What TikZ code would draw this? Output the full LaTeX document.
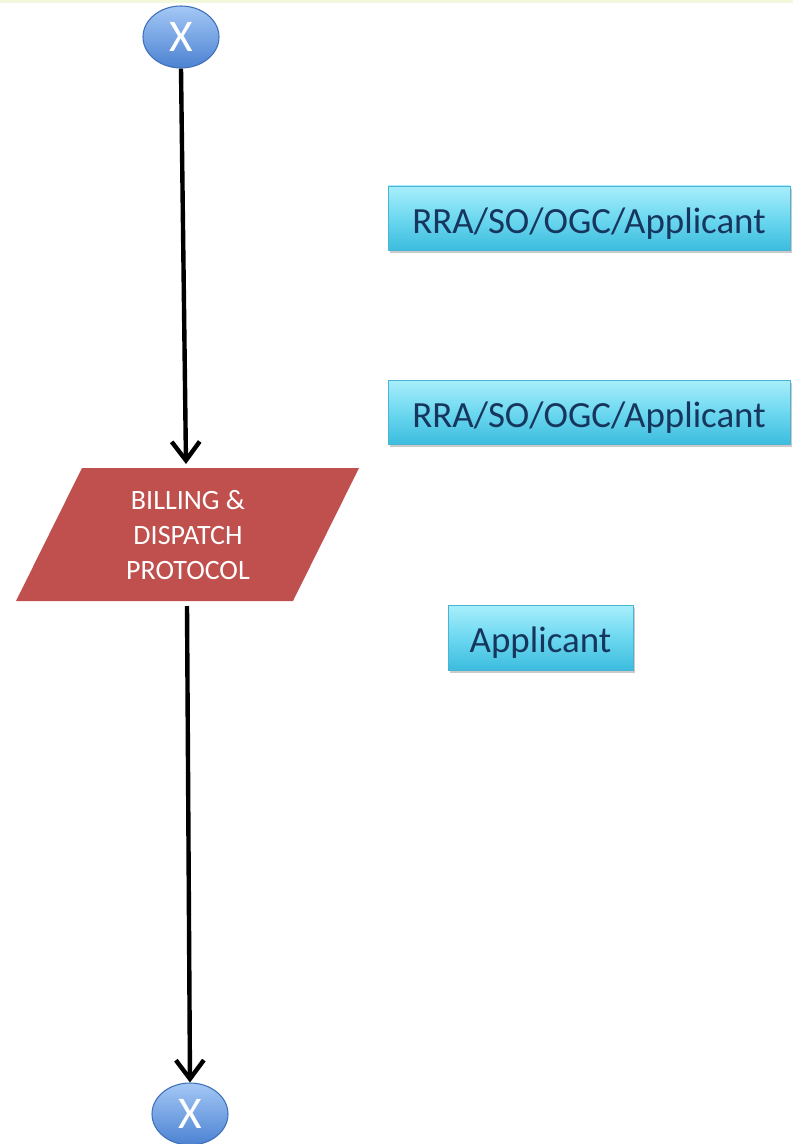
\documentclass[tikz,border=0pt]{standalone}
\usepackage{fontspec}
\setmainfont{Carlito}
\usetikzlibrary{arrows.meta,shadows,shapes.geometric}
\definecolor{boxtop}{HTML}{A8EEFB}
\definecolor{boxmid}{HTML}{6DD8F0}
\definecolor{boxbot}{HTML}{3CBCDE}
\definecolor{boxedge}{HTML}{49B4D4}
\definecolor{boxtext}{HTML}{17365D}
\definecolor{elltop}{HTML}{A4C8F6}
\definecolor{ellbot}{HTML}{4C82D2}
\definecolor{elledge}{HTML}{3F70B8}
\definecolor{billred}{HTML}{C0504D}
\definecolor{topstrip}{HTML}{F2F8DC}
\tikzset{
  rolebox/.style={rectangle, draw=boxedge, line width=0.6pt,
    top color=boxtop, bottom color=boxbot, middle color=boxmid,
    text=boxtext, font=\fontsize{27.7}{33}\selectfont,
    inner sep=0pt, text height=23pt, text depth=0pt,
    drop shadow={shadow xshift=1.5pt, shadow yshift=-2.5pt, opacity=0.35, fill=black!60}},
  connector/.style={ellipse, draw=elledge, line width=0.8pt,
    top color=elltop, bottom color=ellbot,
    text=white, font=\fontsize{34}{34}\selectfont,
    minimum width=57pt, minimum height=46.5pt, inner sep=0pt},
  flowarrow/.style={line width=3.3pt, black,
    -{Straight Barb[length=14pt, width=21pt, line width=3.3pt]}},
  billtext/.style={text=white, align=center,
    font=\fontsize{21}{26.3}\selectfont}
}
\begin{document}
\begin{tikzpicture}[x=0.75pt, y=-0.75pt]
\useasboundingbox (0,0) rectangle (793,1144);
\fill[topstrip] (0,0) rectangle (793,3);
% connectors (circles)
\node[connector] (xtop) at (181,37) {X};
\node[connector] (xbot) at (190,1114) {X};
% parallelogram
\fill[billred] (82,468) -- (359,468) -- (293,601) -- (16,601) -- cycle;
\node[billtext] (bill) at (188,535) {BILLING \&\\DISPATCH\\PROTOCOL};
\coordinate (billin) at (186,464);
\coordinate (billout) at (187,606);
% role boxes
\node[rolebox, minimum width=301.5pt, minimum height=48pt] (role1) at (589,218) {RRA/SO/OGC/Applicant};
\node[rolebox, minimum width=301.5pt, minimum height=48pt] (role2) at (589,412) {RRA/SO/OGC/Applicant};
\node[rolebox, minimum width=138.75pt, minimum height=48.75pt] (role3) at (540.5,637.5) {Applicant};
% arrows
\draw[flowarrow] (xtop.south) -- (billin);
\draw[flowarrow] (billout) -- (xbot.north);
\end{tikzpicture}
\end{document}
